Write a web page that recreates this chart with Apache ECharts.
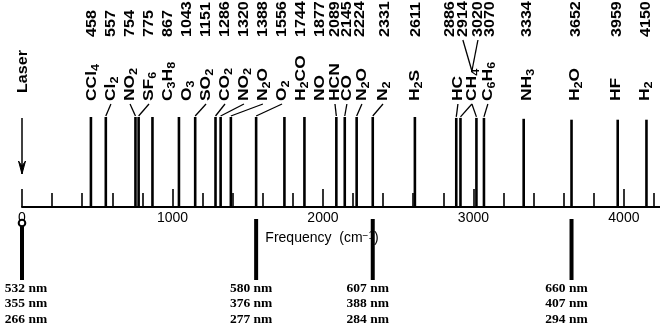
<!DOCTYPE html>
<html>
<head>
<meta charset="utf-8">
<script src="https://cdn.jsdelivr.net/npm/echarts@6/dist/echarts.min.js"></script>
<style>
  html, body { margin: 0; padding: 0; background: #fff; }
  #chart { width: 660px; height: 325px; }
</style>
</head>
<body>
<div id="chart"></div>
<script>
// Raman shifts (cm-1) of the gases and the molecule each line belongs to
const ramanShift = [458, 557, 754, 775, 867, 1043, 1151, 1286, 1320, 1388, 1556, 1744, 1877,
  2089, 2145, 2224, 2331, 2611, 2886, 2914, 3020, 3070, 3334, 3652, 3959, 4150];
const molecule = ['CCl{s|4}', 'Cl{s|2}', 'NO{s|2}', 'SF{s|6}', 'C{s|3}H{s|8}', 'O{s|3}', 'SO{s|2}',
  'CO{s|2}', 'NO{s|2}', 'N{s|2}O', 'O{s|2}', 'H{s|2}CO', 'NO', 'HCN', 'CO', 'N{s|2}O', 'N{s|2}',
  'H{s|2}S', 'HC', 'CH{s|4}', 'CH{s|4}', 'C{s|6}H{s|6}', 'NH{s|3}', 'H{s|2}O', 'HF', 'H{s|2}'];
const lineHeight = [1, 1, 1, 1, 1, 1, 1, 1, 1, 1, 1, 1, 1,
  1, 1, 1, 1, 1, 0.99, 0.99, 0.99, 0.99, 0.98, 0.97, 0.97, 0.97];

// label columns (placed on the same cm-1 scale), and which names get a leader line
const numberAt = [465, 591, 718, 844, 970, 1096, 1223, 1349, 1475, 1601, 1728, 1854, 1980,
  2080, 2159, 2246, 2412, 2618, 2844, 2930, 3030, 3110, 3355, 3680, 3955, 4145];
const nameAt = [465, 591, 718, 844, 970, 1096, 1223, 1349, 1475, 1601, 1728, 1854, 1980,
  2080, 2159, 2259, 2399, 2611, 2897, 2990, 2990, 3096, 3355, 3674, 3947, 4140];
const leader = [0, 1, 1, 1, 0, 0, 1, 1, 1, 1, 1, 0, 0,
  1, 1, 1, 1, 0, 1, 1, 1, 1, 0, 0, 0, 0];

// frequency axis
const axisLabels = [0, 1000, 2000, 3000, 4000];
const minorTicks = [200, 400, 600, 800, 1200, 1400, 1600, 1800, 2200, 2400, 2600, 2800,
  3200, 3400, 3600, 3800, 4200];
const laserShift = [0];

// excitation line and Raman-shifted O2, N2, H2O lines, in nm for three lasers
const stokesShift = [0, 1556, 2331, 3652];
const nm532 = [532, 580, 607, 660];
const nm355 = [355, 376, 388, 407];
const nm266 = [266, 277, 284, 294];

const SANS = '"Liberation Sans", Arial, Helvetica, sans-serif';
const SERIF = '"Liberation Serif", "Times New Roman", serif';
const rich = {
  s: { fontFamily: SANS, fontWeight: 'bold', fontSize: 10.5, lineHeight: 11, verticalAlign: 'bottom', fill: '#000' }
};

function upText(x, y, text, size, stretch) {
  return {
    type: 'text', x: x, y: y, rotation: Math.PI / 2, scaleX: stretch,
    style: {
      text: text, fontFamily: SANS, fontWeight: 'bold', fontSize: size, lineHeight: 19, fill: '#000',
      align: 'left', verticalAlign: 'middle', rich: rich
    }
  };
}

function seg(x1, y1, x2, y2, w) {
  return { type: 'line', shape: { x1: x1, y1: y1, x2: x2, y2: y2 },
    style: { stroke: '#000', lineWidth: w } };
}

function renderRaman(params, api) {
  const i = params.dataIndex;
  const v = api.value(0);
  const base = api.coord([v, 0]);
  const top = api.coord([v, api.value(1)]);
  const refTop = api.coord([v, 1])[1];
  const numX = api.coord([numberAt[i], 0])[0];
  const nameX = api.coord([nameAt[i], 0])[0];
  const kids = [seg(base[0], base[1], top[0], top[1], 2.6)];
  kids.push(upText(numX, refTop - 80, String(ramanShift[i]), 14, 1.15));
  const sharedPrev = i > 0 && molecule[i - 1] === molecule[i] && nameAt[i - 1] === nameAt[i];
  const sharedNext = i < molecule.length - 1 && molecule[i + 1] === molecule[i] && nameAt[i + 1] === nameAt[i];
  if (!sharedPrev) kids.push(upText(nameX, refTop - 16, molecule[i], 14.5, 1.2));
  if (sharedPrev || sharedNext) kids.push(seg(numX, refTop - 77, nameX, refTop - 46, 1.3));
  if (leader[i]) kids.push(seg(nameX, refTop - 13, top[0], top[1] - 1, 1.3));
  return { type: 'group', children: kids };
}

function renderLaser(params, api) {
  const p = api.coord([api.value(0), 1]);
  const x = p[0];
  return {
    type: 'group',
    children: [
      upText(x + 1, p[1] - 24, 'Laser', 14, 1.15),
      seg(x, p[1] + 1, x, p[1] + 57, 1.5),
      { type: 'polygon', shape: { points: [[x - 3.5, p[1] + 44], [x, p[1] + 57], [x + 3.5, p[1] + 44], [x, p[1] + 49]] },
        style: { stroke: '#000', lineWidth: 1, fill: '#000' } }
    ]
  };
}

function renderExcitation(params, api) {
  const i = params.dataIndex;
  const top = api.coord([api.value(0), 1]);
  const bot = api.coord([api.value(0), 0]);
  const kids = [];
  if (i === 0) {
    kids.push({ type: 'circle', shape: { cx: top[0], cy: top[1] + 4, r: 3.3 },
      style: { stroke: '#000', lineWidth: 2, fill: '#fff' } });
    kids.push(seg(top[0], top[1] + 7.5, bot[0], bot[1], 4));
  } else {
    kids.push(seg(top[0], top[1], bot[0], bot[1], 4));
  }
  const cx = Math.max(top[0] - 5, 26);
  const rows = [nm532[i], nm355[i], nm266[i]];
  rows.forEach(function (nm, r) {
    kids.push({
      type: 'text', x: cx, y: bot[1] + 8.5 + r * 15.3,
      style: { text: nm + ' nm', fontFamily: SERIF, fontWeight: 'bold', fontSize: 13.5,
        fill: '#000', align: 'center', verticalAlign: 'middle' }
    });
  });
  return { type: 'group', children: kids };
}

const chart = echarts.init(document.getElementById('chart'));
chart.setOption({
  animation: false,
  backgroundColor: '#fff',
  grid: [
    { left: 22, right: 0, top: 117, bottom: 118 },
    { left: 22, right: 0, top: 219, bottom: 45 }
  ],
  xAxis: [
    {
      gridIndex: 0, type: 'value', min: 0, max: 4240, position: 'bottom',
      axisLine: { lineStyle: { color: '#000', width: 2 } },
      axisTick: { inside: true, length: 18, customValues: axisLabels, lineStyle: { color: '#000', width: 1.6 } },
      axisLabel: {
        customValues: axisLabels, color: '#000', fontSize: 14, fontFamily: SANS, margin: 4,
        formatter: function (v) { return String(v); }
      },
      splitLine: { show: false },
      name: 'Frequency  (cm{sup|\u22121})',
      nameLocation: 'middle', nameGap: 24,
      nameTextStyle: {
        color: '#000', fontSize: 14, fontFamily: SANS, padding: [0, 38, 0, 0],
        rich: { sup: { fontSize: 10, fontFamily: SANS, color: '#000', verticalAlign: 'top', lineHeight: 10 } }
      }
    },
    {
      gridIndex: 0, type: 'value', min: 0, max: 4240, position: 'bottom',
      axisLine: { show: false },
      axisTick: { inside: true, length: 14, customValues: minorTicks, lineStyle: { color: '#000', width: 1.6 } },
      axisLabel: { show: false },
      splitLine: { show: false }
    },
    { gridIndex: 1, type: 'value', min: 0, max: 4240, show: false }
  ],
  yAxis: [
    { gridIndex: 0, type: 'value', min: 0, max: 1, show: false },
    { gridIndex: 1, type: 'value', min: 0, max: 1, show: false }
  ],
  series: [
    {
      type: 'custom', xAxisIndex: 0, yAxisIndex: 0, clip: false,
      data: ramanShift.map(function (v, i) { return [v, lineHeight[i]]; }),
      renderItem: renderRaman
    },
    {
      type: 'custom', xAxisIndex: 0, yAxisIndex: 0, clip: false,
      data: laserShift.map(function (v) { return [v, 1]; }),
      renderItem: renderLaser
    },
    {
      type: 'custom', xAxisIndex: 2, yAxisIndex: 1, clip: false, z: 5,
      data: stokesShift.map(function (v) { return [v, 1]; }),
      renderItem: renderExcitation
    }
  ]
});
</script>
</body>
</html>
